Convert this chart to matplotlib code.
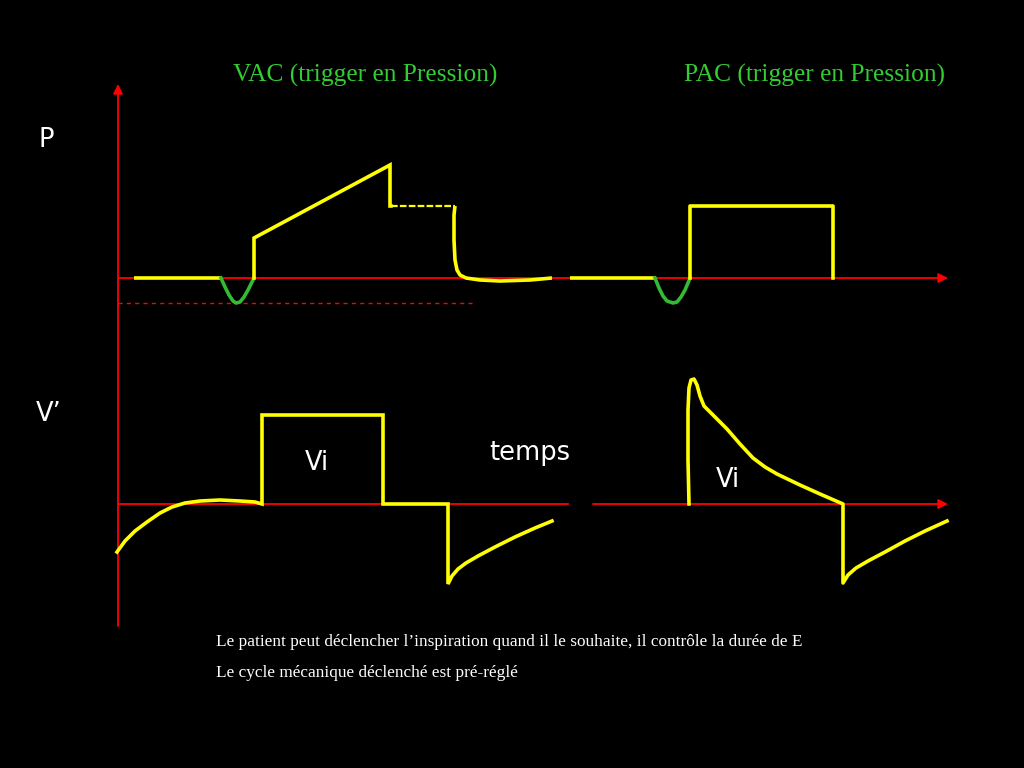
import matplotlib
matplotlib.use('Agg')
import matplotlib.pyplot as plt

# schema VAC / PAC : courbes (coordonnees ecran en px)
titles = ['VAC (trigger en Pression)', 'PAC (trigger en Pression)']
title_x = [365, 815]
notes = ["Le patient peut déclencher l\u2019inspiration quand il le souhaite, il contrôle la durée de E",
         "Le cycle mécanique déclenché est pré-réglé"]

# pression VAC
p_vac_pre_t = [134, 221]
p_vac_pre_y = [278, 278]
p_vac_dip_t = [221, 225, 229, 233, 236, 240, 244, 248, 251, 254]
p_vac_dip_y = [278, 287, 295, 301, 303, 302, 297, 290, 284, 278]
p_vac_t = [254, 254, 390, 390, 391]
p_vac_y = [278, 238, 165, 206, 206]
p_vac_plat_t = [391, 455]
p_vac_plat_y = [206, 206]
p_vac_exp_t = [455, 454, 454, 455, 457, 460, 466, 480, 500, 530, 552]
p_vac_exp_y = [206, 215, 240, 260, 270, 275, 278, 280, 281, 280, 278]

# pression PAC
p_pac_pre_t = [570, 655]
p_pac_pre_y = [278, 278]
p_pac_dip_t = [655, 659, 663, 667, 673, 677, 681, 685, 688, 690]
p_pac_dip_y = [278, 288, 296, 301, 303, 302, 297, 290, 283, 278]
p_pac_t = [690, 690, 833, 833]
p_pac_y = [278, 206, 206, 278]

# debit VAC
v_vac_t = [117, 125, 135, 147, 160, 172, 185, 200, 220, 240, 255, 262, 262, 383, 383, 448, 448,
           452, 458, 466, 478, 495, 515, 535, 552]
v_vac_y = [552, 541, 531, 522, 513, 507, 503, 501, 500, 501, 502, 504, 415, 415, 504, 504, 584,
           576, 569, 563, 556, 547, 537, 528, 521]

# debit PAC
v_pac_t = [689, 688, 688, 689, 691, 694, 697, 700, 704, 715, 727, 740, 753, 765, 777, 800, 820, 843,
           843, 843, 848, 856, 868, 885, 905, 925, 947]
v_pac_y = [504, 460, 410, 388, 380, 379, 385, 396, 406, 417, 429, 444, 458, 467, 474, 485, 494, 504,
           504, 583, 575, 568, 561, 552, 541, 531, 521]

yellow = '#ffff00'
green = '#33bb33'
red = '#ff0000'
title_green = '#33cc33'

fig = plt.figure(figsize=(10.24, 7.68), dpi=100)
fig.patch.set_facecolor('black')
ax = fig.add_axes([0, 0, 1, 1])
ax.set_facecolor('black')
ax.set_xlim(0, 1024)
ax.set_ylim(768, 0)
ax.axis('off')

# axes rouges
arr = dict(arrowstyle='-|>', color=red, lw=1.3, mutation_scale=14, shrinkA=0, shrinkB=0)
ax.annotate('', xy=(118, 84), xytext=(118, 626), arrowprops=arr, zorder=1)
ax.annotate('', xy=(948, 278), xytext=(118, 278), arrowprops=arr, zorder=1)
ax.plot([118, 568], [504, 504], color=red, lw=1.3, zorder=1)
ax.annotate('', xy=(948, 504), xytext=(593, 504), arrowprops=arr, zorder=1)
ax.plot([118, 472], [303, 303], color=red, lw=1.0, ls=(0, (3, 3)), zorder=1)

lw = 2.6
kw = dict(lw=lw, zorder=3)
ax.plot(p_vac_pre_t, p_vac_pre_y, color=yellow, solid_capstyle='butt', **kw)
ax.plot(p_vac_dip_t, p_vac_dip_y, color=green, **kw)
ax.plot(p_vac_t, p_vac_y, color=yellow, solid_joinstyle='miter', **kw)
ax.plot(p_vac_plat_t, p_vac_plat_y, color=yellow, lw=1.6, ls=(0, (3, 1)), zorder=3)
ax.plot(p_vac_exp_t, p_vac_exp_y, color=yellow, solid_capstyle='butt', **kw)
ax.plot(p_pac_pre_t, p_pac_pre_y, color=yellow, solid_capstyle='butt', **kw)
ax.plot(p_pac_dip_t, p_pac_dip_y, color=green, **kw)
ax.plot(p_pac_t, p_pac_y, color=yellow, **kw)
ax.plot(v_vac_t, v_vac_y, color=yellow, solid_joinstyle='miter', **kw)
ax.plot(v_pac_t, v_pac_y, color=yellow, **kw)

for t, x in zip(titles, title_x):
    ax.text(x, 75, t, color=title_green, fontsize=18.3, family='Liberation Serif',
            ha='center', va='center')

ax.text(46, 140, 'P', color='white', fontsize=18.5, ha='center', va='center')
ax.text(49, 414, 'V\u2019', color='white', fontsize=18.5, ha='center', va='center')
ax.text(317, 463, 'Vi', color='white', fontsize=18.5, ha='center', va='center')
ax.text(728, 480, 'Vi', color='white', fontsize=18.5, ha='center', va='center')
ax.text(530, 453, 'temps', color='white', fontsize=18.5, ha='center', va='center')

for i, n in enumerate(notes):
    ax.text(216, 642 + 31 * i, n, color='white', fontsize=12.4, family='Liberation Serif',
            ha='left', va='center')

fig.savefig('out.png', dpi=100, facecolor='black')
